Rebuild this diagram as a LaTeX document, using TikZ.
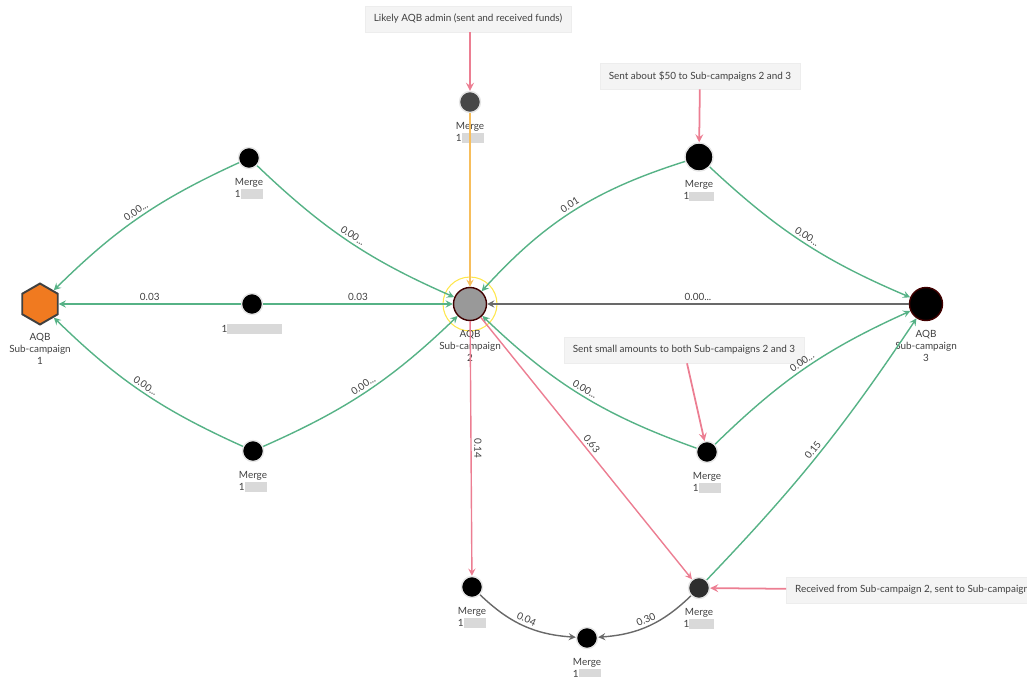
\documentclass[tikz,border=0pt]{standalone}
\usepackage{fontspec}
\setmainfont{Lato}
\usepackage{tikz}
\usetikzlibrary{shapes,arrows,positioning,calc}
\definecolor{flowgreen}{RGB}{86,178,134}
\definecolor{flowpink}{RGB}{236,126,146}
\definecolor{flowgold}{RGB}{247,190,92}
\definecolor{flowgray}{RGB}{105,105,105}
\definecolor{hexorange}{RGB}{240,122,32}
\newcommand{\hid}[1]{\textcolor{gray!30}{\rule[-0.25ex]{#1}{1.9ex}}}
\tikzset{
  txt/.style={font=\fontsize{5.65}{6.8}\selectfont,text=black!75},
  lbl/.style={txt,align=center,inner sep=1pt},
  mlbl/.style={lbl,label distance=0.14cm},
  mrg/.style={circle,draw=gray!20,line width=0.8pt,fill=black,minimum size=0.42cm,inner sep=0pt},
  camp/.style={circle,draw=red!25!black,line width=0.8pt,minimum size=0.66cm,inner sep=0pt},
  hex/.style={regular polygon,regular polygon sides=6,shape border rotate=30,draw=black!75,line width=1.1pt,fill=hexorange,minimum size=0.82cm,inner sep=0pt},
  halo/.style={circle,draw=yellow!80!orange!70,line width=0.6pt,minimum size=1.08cm,inner sep=0pt},
  note/.style={rectangle,fill=gray!9,draw=gray!14,minimum height=0.52cm,inner xsep=5pt,txt},
  wt/.style={txt,sloped,above,inner sep=1.5pt},
  arr/.style={->,>=stealth,line width=0.8pt},
  gf/.style={arr,draw=flowgreen},
  rf/.style={arr,draw=flowpink},
  of/.style={arr,draw=flowgold},
  kf/.style={arr,draw=flowgray},
  pf/.style={->,>=stealth,line width=1pt,draw=flowpink},
}
\begin{document}
\begin{tikzpicture}[x=0.02cm,y=-0.02cm]
  \useasboundingbox (0,0) rectangle (1027,676);
  \clip (0,0) rectangle (1027,676);
  % campaigns
  \node[halo] (ring) at (470,304) {};
  \node[hex] (sc1) at (40,304) {};
  \node[lbl,below=0.12cm of sc1] (sc1l) {AQB\\Sub-campaign\\1};
  \node[camp,fill=gray!80] (sc2) at (470,304) {};
  \node[lbl,below=0.14cm of sc2] (sc2l) {AQB\\Sub-campaign\\2};
  \node[camp,fill=black] (sc3) at (926,304) {};
  \node[lbl,below=0.14cm of sc3] (sc3l) {AQB\\Sub-campaign\\3};
  % merge wallets
  \node[mrg,fill=black!72] (mtop) at (470,102) [label={[mlbl]below:{Merge\\1\hid{0.45cm}}}] {};
  \node[mrg] (mul) at (249,158) [label={[mlbl]below:{Merge\\1\hid{0.45cm}}}] {};
  \node[mrg] (mml) at (252,304) [label={[mlbl]below:{1\hid{1.1cm}}}] {};
  \node[mrg] (mll) at (253,451) [label={[mlbl]below:{Merge\\1\hid{0.45cm}}}] {};
  \node[mrg,minimum size=0.56cm] (mur) at (699,157) [label={[mlbl]below:{Merge\\1\hid{0.5cm}}}] {};
  \node[mrg] (mmr) at (707,452) [label={[mlbl]below:{Merge\\1\hid{0.45cm}}}] {};
  \node[mrg] (mbl) at (472,587) [label={[mlbl]below:{Merge\\1\hid{0.45cm}}}] {};
  \node[mrg] (mbm) at (587,638) [label={[mlbl]below:{Merge\\1\hid{0.45cm}}}] {};
  \node[mrg,fill=black!82] (mbr) at (699,588) [label={[mlbl]below:{Merge\\1\hid{0.5cm}}}] {};
  % notes
  \node[note] (n1) at (468,19) {Likely AQB admin (sent and received funds)};
  \node[note] (n2) at (700,76) {Sent about \$50 to Sub-campaigns 2 and 3};
  \node[note] (n3) at (684,350) {Sent small amounts to both Sub-campaigns 2 and 3};
  \node[note,anchor=west] (n4) at (786,590) {Received from Sub-campaign 2, sent to Sub-campaign 3};
  \draw[pf] (n1.south -| mtop) -- (mtop);
  \draw[pf] (n2) -- (mur);
  \draw[pf] (n3) -- (mmr);
  \draw[pf] (n4) -- (mbr);
  % flows
  \draw[gf] (mul) to[bend right=10] node[wt]{0.00...} (sc1);
  \draw[gf] (mul) to[bend right=10] node[wt]{0.00...} (sc2);
  \draw[gf] (mml) -- node[wt]{0.03} (sc1);
  \draw[gf] (mml) -- node[wt]{0.03} (sc2);
  \draw[gf] (mll) to[bend left=10] node[wt]{0.00...} (sc1);
  \draw[gf] (mll) to[bend right=10] node[wt]{0.00...} (sc2);
  \draw[of] (mtop) -- (sc2);
  \draw[gf] (mur) to[bend right=15] node[wt]{0.01} (sc2);
  \draw[gf] (mur) to[bend right=10] node[wt]{0.00...} (sc3);
  \draw[kf] (sc3) -- node[wt]{0.00...} (sc2);
  \draw[gf] (mmr) to[bend left=12] node[wt]{0.00...} (sc2);
  \draw[gf] (mmr) to[bend left=10] node[wt]{0.00...} (sc3);
  \draw[gf] (mbr) to[bend right=5] node[wt]{0.15} (sc3);
  \draw[rf] (sc2) -- node[wt]{0.63} (mbr);
  \draw[rf] (sc2) -- node[txt,rotate=-90,anchor=south,inner sep=1.5pt]{0.14} (mbl);
  \draw[kf] (mbl) to[bend right=20] node[wt]{0.04} (mbm);
  \draw[kf] (mbr) to[bend left=20] node[wt]{0.30} (mbm);
\end{tikzpicture}
\end{document}
